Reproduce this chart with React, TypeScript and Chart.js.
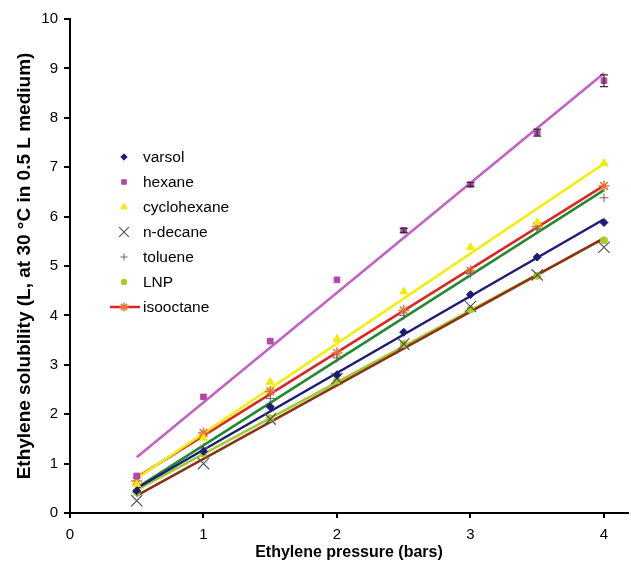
import React, { useEffect, useRef } from 'react';
import { Chart, registerables } from 'chart.js';
import { drawPoint } from 'chart.js/helpers';

Chart.register(...registerables);

// ---- data ----
const pressures = [0.5, 1, 1.5, 2, 2.5, 3, 3.5, 4];
const varsol = [0.45, 1.25, 2.15, 2.8, 3.66, 4.42, 5.18, 5.88];
const hexane = [0.75, 2.35, 3.48, 4.72, 5.72, 6.65, 7.7, 8.75];
const hexaneErr = [0, 0, 0, 0, 0.04, 0.04, 0.07, 0.12];
const cyclohexane = [0.58, 1.52, 2.65, 3.52, 4.48, 5.38, 5.88, 7.08];
const nDecane = [0.25, 1.0, 1.9, 2.72, 3.42, 4.18, 4.82, 5.38];
const toluene = [0.42, 1.32, 2.32, 3.14, 4.0, 4.85, 5.75, 6.38];
const lnp = [0.42, 1.2, 1.92, 2.68, 3.42, 4.12, 4.8, 5.52];
const isooctane = [0.65, 1.62, 2.46, 3.24, 4.1, 4.9, 5.8, 6.62];

const seriesNames = ['varsol', 'hexane', 'cyclohexane', 'n-decane', 'toluene', 'LNP', 'isooctane'];
const seriesValues = [varsol, hexane, cyclohexane, nDecane, toluene, lnp, isooctane];

const xTitle = 'Ethylene pressure (bars)';
const yTitle = 'Ethylene solubility (L, at 30 \u00B0C in 0.5 L medium)';

// ---- styles ----
const markerStyles = ['rectRot', 'rect', 'triangle', 'crossRot', 'cross', 'circle', 'star'];
const markerColors = ['#1c1c78', '#b844a8', '#f2ea00', '#555555', '#666666', '#a8cc22', '#e8703a'];
const markerRadii = [4, 4, 4.5, 8, 4.5, 3.5, 5.5];
const markerBorders = [1, 1, 1, 1.2, 1, 1, 1.5];
const lineColors = ['#1c1c78', '#c460c4', '#f2ee10', '#8b3214', '#1f8a2e', '#9ccc30', '#e02424'];

const FONT = "'Liberation Sans', Arial, Helvetica, sans-serif";

function fitLine(xs: number[], ys: number[]) {
  const n = xs.length;
  const mx = xs.reduce((a, b) => a + b, 0) / n;
  const my = ys.reduce((a, b) => a + b, 0) / n;
  let sxy = 0;
  let sxx = 0;
  for (let i = 0; i < n; i++) {
    sxy += (xs[i] - mx) * (ys[i] - my);
    sxx += (xs[i] - mx) * (xs[i] - mx);
  }
  const b = sxy / sxx;
  const a = my - b * mx;
  return [
    { x: xs[0], y: a + b * xs[0] },
    { x: xs[n - 1], y: a + b * xs[n - 1] },
  ];
}

const legendPlugin = {
  id: 'insideLegend',
  afterDraw(chart: any) {
    const ctx = chart.ctx;
    ctx.save();
    seriesNames.forEach((name, i) => {
      const y = 157 + i * 25;
      if (i === seriesNames.length - 1) {
        ctx.strokeStyle = lineColors[i];
        ctx.lineWidth = 2.5;
        ctx.beginPath();
        ctx.moveTo(110, y);
        ctx.lineTo(140, y);
        ctx.stroke();
      }
      ctx.fillStyle = markerColors[i];
      ctx.strokeStyle = markerColors[i];
      ctx.lineWidth = markerBorders[i];
      drawPoint(ctx, { pointStyle: markerStyles[i], radius: markerRadii[i] * (i === 3 ? 0.85 : 0.8), rotation: 0, borderWidth: markerBorders[i] }, 124, y);
      ctx.fillStyle = '#000';
      ctx.font = `15.5px ${FONT}`;
      ctx.textBaseline = 'middle';
      ctx.textAlign = 'left';
      ctx.fillText(name, 143, y + 1);
    });
    ctx.restore();
  },
};

const errorBarPlugin = {
  id: 'hexaneErrors',
  afterDatasetsDraw(chart: any) {
    const ctx = chart.ctx;
    const xs = chart.scales.x;
    const ys = chart.scales.y;
    ctx.save();
    ctx.strokeStyle = '#333';
    ctx.lineWidth = 1.2;
    pressures.forEach((p, i) => {
      const e = hexaneErr[i];
      if (!e) return;
      const px = xs.getPixelForValue(p);
      const top = ys.getPixelForValue(hexane[i] + e);
      const bot = ys.getPixelForValue(hexane[i] - e);
      ctx.beginPath();
      ctx.moveTo(px, top);
      ctx.lineTo(px, bot);
      ctx.moveTo(px - 4, top);
      ctx.lineTo(px + 4, top);
      ctx.moveTo(px - 4, bot);
      ctx.lineTo(px + 4, bot);
      ctx.stroke();
    });
    ctx.restore();
  },
};

export default function App() {
  const ref = useRef<HTMLCanvasElement | null>(null);

  useEffect(() => {
    if (!ref.current) return;
    const pointSets = seriesNames.map((name, i) => ({
      label: name,
      data: pressures.map((p, j) => ({ x: p, y: seriesValues[i][j] })),
      showLine: false,
      pointStyle: markerStyles[i],
      pointRadius: markerRadii[i],
      pointBorderWidth: markerBorders[i],
      pointBackgroundColor: markerColors[i],
      pointBorderColor: markerColors[i],
      backgroundColor: markerColors[i],
      borderColor: markerColors[i],
      clip: false,
    }));
    const lineSets = seriesNames.map((name, i) => ({
      label: name + ' fit',
      data: fitLine(pressures, seriesValues[i]),
      showLine: true,
      pointRadius: 0,
      borderWidth: 2.5,
      borderColor: lineColors[i],
      backgroundColor: lineColors[i],
      fill: false,
    }));

    const chart = new Chart(ref.current, {
      type: 'scatter',
      data: { datasets: [...pointSets, ...lineSets] as any },
      options: {
        animation: false,
        responsive: false,
        maintainAspectRatio: false,
        events: [],
        layout: { autoPadding: false, padding: { top: 19, right: 3, left: 0, bottom: 0 } },
        plugins: {
          legend: { display: false },
          tooltip: { enabled: false },
        },
        scales: {
          x: {
            type: 'linear',
            min: 0,
            max: 4.18,
            afterFit: (s: any) => {
              s.height = 49;
            },
            ticks: {
              stepSize: 1,
              includeBounds: false,
              color: '#000',
              font: { family: FONT, size: 15 },
              padding: 8,
            },
            grid: { drawOnChartArea: false, drawTicks: true, tickLength: 5, color: '#000', lineWidth: 2 },
            border: { color: '#000', width: 2 },
            title: {
              display: true,
              text: xTitle,
              color: '#000',
              font: { family: FONT, size: 16, weight: 'bold' },
              padding: { top: 0, bottom: 0 },
            },
          },
          y: {
            type: 'linear',
            min: 0,
            max: 10,
            afterFit: (s: any) => {
              s.width = 70;
            },
            ticks: {
              stepSize: 1,
              color: '#000',
              font: { family: FONT, size: 15 },
              padding: 6,
            },
            grid: { drawOnChartArea: false, drawTicks: true, tickLength: 6, color: '#000', lineWidth: 2 },
            border: { color: '#000', width: 2 },
            title: {
              display: true,
              text: yTitle,
              color: '#000',
              font: { family: FONT, size: 19, weight: 'bold' },
              padding: { top: 13, bottom: 0 },
            },
          },
        },
      },
      plugins: [errorBarPlugin, legendPlugin],
    });
    return () => chart.destroy();
  }, []);

  return (
    <div style={{ position: 'fixed', left: 0, top: 0, width: 631, height: 562, background: '#fff' }}>
      <canvas ref={ref} width={631} height={562} style={{ width: 631, height: 562, display: 'block' }} />
    </div>
  );
}
